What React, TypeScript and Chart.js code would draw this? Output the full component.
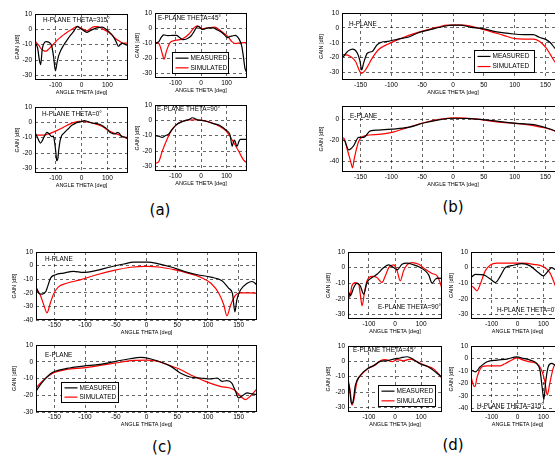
import React, { useEffect, useRef } from "react";
import { Chart, registerables } from "chart.js";

Chart.register(...registerables);

const FONT = '"Liberation Sans", Arial, Helvetica, sans-serif';

const seriesNames = ["MEASURED", "SIMULATED"];
const seriesColors = ["#000000", "#ff0000"];
const panelLabels = ["(a)", "(b)", "(c)", "(d)"];
const xAxisTitle = "ANGLE THETA [deg]";
const yAxisTitle = "GAIN [dB]";

const xTicksSmall = [-100, 0, 100];
const xTicksWide = [-150, -100, -50, 0, 50, 100, 150];
const yTicks30 = [10, 0, -10, -20, -30];
const yTicks40 = [10, 0, -10, -20, -30, -40];
const yTicksB2 = [0, -20, -40];

// ---- (a) ----
const a1MeasTheta = [-178,-170,-163,-158,-152,-145,-137,-125,-115,-108,-101,-95,-88,-81,-68,-56,-43,-31,-16,-8,0,10,21,32,44,60,81,95,106,120,131,144,150,156,165,178];
const a1MeasGain = [-9,-12,-20,-23,-13,-9,-8,-8.5,-11,-18,-27,-22,-17,-14,-10,-7,-4,-1.5,2,1,0,-1,-2,-1,0,1,1.5,0,-1.5,-4,-7,-11,-10,-9,-9.5,-10.5];
const a1SimTheta = [-178,-165,-156,-145,-137,-128,-119,-105,-94,-80,-62,-50,-37,-28,-19,-10,0,10,21,35,50,62,75,90,106,120,131,145,156,165,178];
const a1SimGain = [-8,-10.5,-12.7,-14,-14.2,-13,-11.5,-9,-7,-5,-2.7,-1.2,0,1,1.8,1.5,0.7,-0.3,-1,0.5,1.8,1.8,1,-0.5,-2,-4,-6,-7.5,-8.7,-9,-8.9];

const a2MeasTheta = [-178,-165,-155,-146,-130,-110,-96,-85,-71,-55,-40,-28,-21,-12,-4,4,15,29,48,62,79,92,104,114,122,135,148,155,160,166,172,178];
const a2MeasGain = [-10,-9,-6,-4.5,-5,-4.8,-4.8,-6,-7.6,-7,-5.4,-2.5,-0.4,1.1,0.5,-0.9,-0.5,0.2,0.2,-1,-2.6,-4.5,-6.3,-5.5,-5.2,-4.8,-7,-9.5,-12.4,-19,-26.5,-29];
const a2SimTheta = [-178,-165,-158,-152,-147,-144,-140,-134,-121,-110,-96,-71,-46,-27,-15,-5,4,29,54,79,104,122,135,154,178];
const a2SimGain = [-9.5,-10.2,-13,-16.7,-19.5,-20.6,-18.5,-14.6,-9.6,-8.5,-8,-7,-3.7,0.2,1.5,0.5,-0.4,0.2,0.7,-2,-5.4,-9.1,-10.2,-9.8,-9.6];

const a3MeasTheta = [-178,-170,-165,-159,-152,-146,-140,-134,-125,-115,-109,-104,-99,-96,-92,-88,-83,-77,-68,-59,-50,-40,-28,-15,0,10,25,41,55,66,79,91,100,110,120,129,135,141,148,154,163,173,178];
const a3MeasGain = [-7.2,-10,-12,-13.5,-12,-9.8,-8,-6.5,-7.6,-9.3,-9,-13,-20,-25,-24,-18,-12,-8.7,-7,-5.4,-4,-2.2,-1,0,0.5,1.1,0.5,-0.4,-0.8,-1.1,-2,-3.3,-4.5,-6.5,-7.2,-7.6,-7,-6.5,-7.5,-9.1,-9.5,-9.8,-10.5];
const a3SimTheta = [-178,-146,-121,-96,-71,-40,-9,16,48,79,104,129,148,173,178];
const a3SimGain = [-8.3,-8.3,-7.2,-5.4,-3.3,-0.7,0.7,0.4,-0.7,-2.6,-5.4,-7.2,-8.3,-10.4,-10.6];

const a4MeasTheta = [-178,-165,-152,-140,-127,-115,-96,-71,-46,-34,-15,16,48,72,98,114,122,127,131,136,141,148,154,166,178];
const a4MeasGain = [-10,-10.3,-11.1,-10,-9,-6.4,-2.8,-0.6,0.6,1.7,0.4,-0.4,-2.1,-3.2,-6.4,-9.6,-17,-14,-12.8,-15,-17,-14,-12.4,-12.4,-12.4];
const a4SimTheta = [-178,-165,-152,-134,-115,-90,-59,-27,4,41,72,98,122,148,166,178];
const a4SimGain = [-28,-26.8,-20.3,-12.8,-6.4,-2.1,0,0.4,0,-1.5,-3.9,-6.9,-12.8,-20.3,-25.7,-27.4];

// ---- (b) ----
const b1MeasTheta = [-180,-177,-171,-163,-155,-151,-148,-145,-139,-131,-123,-115,-105,-89,-73,-57,-36,-14,0,12,28,50,71,98,114,130,140,151,158,165,172,180];
const b1MeasGain = [-20,-19,-15.8,-14.2,-17,-22,-28.2,-23.7,-17,-15.8,-11.3,-9.5,-9,-7.5,-6.3,-3.4,-1.1,1.1,1.8,1.8,0.5,-0.7,-2.7,-4.1,-4.5,-4.5,-6.3,-7.9,-10,-13.5,-16,-18];
const b1SimTheta = [-180,-177,-166,-158,-151,-148,-142,-131,-121,-105,-89,-68,-46,-25,-9,18,39,60,82,101,115,130,140,151,158,165,172,180];
const b1SimGain = [-18.5,-18,-19.2,-22.6,-29.4,-30.5,-28.2,-20.3,-14.7,-10.8,-7.9,-4.5,-1.8,0.5,1.8,1.8,0,-2.3,-5,-7.2,-7.5,-7.5,-9,-13.5,-18,-22.6,-25,-27];

const b2MeasTheta = [-180,-177,-169,-161,-153,-145,-134,-121,-99,-73,-46,-25,0,28,60,103,135,151,165,172,180];
const b2MeasGain = [-20,-19.7,-29,-25,-17.2,-17.2,-11,-10.3,-9.4,-7.8,-3.4,-0.9,0.9,0.6,-1.2,-4,-5.6,-8.1,-11,-13,-15];
const b2SimTheta = [-180,-177,-172,-166,-163,-160,-153,-142,-121,-99,-73,-46,-20,7,39,71,114,140,165,172,180];
const b2SimGain = [-18,-18,-27.5,-40,-46,-37,-21.2,-15.6,-14.4,-12.5,-7.8,-3.1,0,1.2,0,-2.5,-4.7,-7.2,-11.2,-14,-17];

// ---- (c) ----
const c1MeasTheta = [-180,-175,-170,-164,-156,-148,-135,-119,-103,-81,-59,-37,-21,2,18,40,61,83,105,123,134,140,144,147,153,164,172,180];
const c1MeasGain = [-15.5,-20.5,-21,-19,-9,-6.7,-5.5,-4.2,-5,-3.5,-1,1.2,2.5,2.5,1.5,-1,-4.2,-6.7,-8.5,-11.2,-16.7,-20.5,-34,-25.5,-18,-13,-11.7,-14.2];
const c1SimTheta = [-180,-173,-168,-162,-157,-151,-143,-130,-108,-81,-53,-26,0,23,45,67,89,105,118,126,131,137,145,153,169,180];
const c1SimGain = [-16.7,-21.7,-28,-34.7,-28,-20.5,-15.5,-13,-10.5,-6.7,-3.5,-1.2,-0.5,-1.2,-3,-5.5,-8.7,-13,-20.5,-29,-37,-29,-21.7,-20,-20,-20.5];

const c2MeasTheta = [-180,-171,-157,-149,-130,-103,-76,-48,-27,-10,6,22,39,55,71,88,104,115,123,131,139,145,150,155,164,172,180];
const c2MeasGain = [-17.6,-12.7,-7.3,-5.7,-4,-2.6,-1.6,0.4,1.8,2.6,1.8,0,-2.6,-6.7,-9.1,-9.7,-10.3,-9.7,-11.7,-11.3,-12.7,-17.6,-21.6,-20.6,-18.6,-19.2,-19.6];
const c2SimTheta = [-180,-168,-152,-130,-103,-76,-48,-21,0,17,33,55,77,98,120,142,153,161,169,180];
const c2SimGain = [-15.6,-11,-6.7,-4.6,-3.6,-2.2,-0.6,0.8,1,0.4,-1.6,-4.6,-8.7,-12,-14.7,-16.6,-20.6,-22.6,-20.6,-16.2];

// ---- (d) ----
const d1MeasTheta = [-180,-171,-158,-146,-133,-120,-107,-88,-69,-43,-24,-5,8,27,46,72,97,116,129,142,155,167,180];
const d1MeasGain = [-14.9,-18,-12.8,-10.2,-11.7,-17,-9.6,-6.4,-4.3,0,1.7,0,-1.5,2.1,2.8,1.7,0,-2.1,-4.7,-10,-7.4,-6.8,-7];
const d1SimTheta = [-180,-174,-165,-152,-139,-133,-126,-117,-107,-88,-69,-50,-37,-24,-5,8,20,33,46,65,91,116,142,161,174,180];
const d1SimGain = [-12.8,-19.1,-11.7,-9.6,-10.6,-17,-24.5,-16,-8.5,-5.7,-6.4,-9.6,-5.3,0,1.7,-2.1,-8.5,-2.1,1.7,3.2,2.1,-1.1,-3.8,-5.3,-10.2,-13.8];

const d2MeasTheta = [-180,-163,-131,-105,-86,-66,-47,-15,17,49,81,100,119,132,144,160,180];
const d2MeasGain = [-6.4,-4.3,-4.7,-7.4,-9.6,-5.3,0,1.5,2.6,1.1,-3.2,-5.3,-2.1,0,-1.1,-3,-5];
const d2SimTheta = [-180,-170,-157,-144,-125,-105,-80,-28,23,61,100,125,144,160,180];
const d2SimGain = [-11.7,-12.8,-14.9,-10.6,-2.1,1.7,2.8,2.8,2.8,2.1,0.6,-3.2,-10.6,-18,-25];

const d3MeasTheta = [-180,-174,-167,-161,-152,-133,-107,-82,-56,-31,-5,20,46,72,97,123,148,167,180];
const d3MeasGain = [-12.5,-17.8,-27.5,-26.5,-15.7,-9.2,-4.9,-2.8,0,0.4,1.5,2.2,3,1.1,-1.7,-3.2,-6,-8.6,-10.3];
const d3SimTheta = [-180,-171,-165,-158,-146,-126,-101,-75,-56,-37,-11,8,33,59,84,116,148,167,180];
const d3SimGain = [-11.4,-20,-28.5,-25.4,-13.5,-8.2,-4.5,-2.4,0.4,1.1,-0.2,1.1,0.4,1.5,-0.2,-2.8,-4.9,-8.2,-11];

const d4MeasTheta = [-180,-163,-144,-118,-79,-41,-3,23,49,74,87,96,102,109,119,132,144,160,180];
const d4MeasGain = [-9.3,-10.7,-6.7,-2.7,-1.3,-0.5,1.3,0,-1.3,-4,-9.3,-24,-33,-18.7,-6.7,-4,-5.3,-8,-10];
const d4SimTheta = [-180,-171,-165,-156,-137,-118,-66,-47,-22,-3,23,49,74,93,106,115,125,138,144,160,180];
const d4SimGain = [-14.7,-21.3,-22.7,-14.7,-6.7,-5.9,-5.9,-4,-1.3,0.5,-1.3,-2.7,-4,-9.3,-18.7,-29.3,-20,-8,-5.3,-5,-8];

type Spec = {
  box: number[]; // l, t, r, b (page px)
  yMin: number;
  yMax: number;
  yTicks: number[];
  xTicks: number[];
  meas: number[][];
  sim: number[][];
  title: string;
  titlePos: number[];
  legend?: number[];
  gap: number;
};

const specs: Spec[] = [
  { box: [35, 14, 128, 80], yMin: -33, yMax: 10, yTicks: yTicks30, xTicks: xTicksSmall, meas: [a1MeasTheta, a1MeasGain], sim: [a1SimTheta, a1SimGain], title: "H-PLANE THETA=315°", titlePos: [43, 20], gap: 17 },
  { box: [155, 13, 247, 78], yMin: -33, yMax: 10, yTicks: yTicks30, xTicks: xTicksSmall, meas: [a2MeasTheta, a2MeasGain], sim: [a2SimTheta, a2SimGain], title: "E-PLANE THETA=45°", titlePos: [158, 18], legend: [172, 52, 229, 74], gap: 17 },
  { box: [35, 107, 128, 173], yMin: -33, yMax: 10, yTicks: yTicks30, xTicks: xTicksSmall, meas: [a3MeasTheta, a3MeasGain], sim: [a3SimTheta, a3SimGain], title: "H-PLANE THETA=0°", titlePos: [42, 114], gap: 17 },
  { box: [155, 105, 247, 171], yMin: -33, yMax: 10, yTicks: yTicks30, xTicks: xTicksSmall, meas: [a4MeasTheta, a4MeasGain], sim: [a4SimTheta, a4SimGain], title: "E-PLANE THETA=90°", titlePos: [157, 109], gap: 17 },
  { box: [342, 13, 564, 80], yMin: -35, yMax: 10, yTicks: yTicks30, xTicks: xTicksWide, meas: [b1MeasTheta, b1MeasGain], sim: [b1SimTheta, b1SimGain], title: "H-PLANE", titlePos: [349, 24], legend: [474, 50, 535, 73], gap: 20 },
  { box: [342, 106, 564, 172], yMin: -50, yMax: 12.5, yTicks: yTicksB2, xTicks: xTicksWide, meas: [b2MeasTheta, b2MeasGain], sim: [b2SimTheta, b2SimGain], title: "E-PLANE", titlePos: [350, 116], gap: 20 },
  { box: [36, 252, 257, 320], yMin: -40, yMax: 10, yTicks: yTicks40, xTicks: xTicksWide, meas: [c1MeasTheta, c1MeasGain], sim: [c1SimTheta, c1SimGain], title: "H-PLANE", titlePos: [45, 259], gap: 21 },
  { box: [36, 345, 257, 412], yMin: -30, yMax: 10, yTicks: yTicks30, xTicks: xTicksWide, meas: [c2MeasTheta, c2MeasGain], sim: [c2SimTheta, c2SimGain], title: "E-PLANE", titlePos: [45, 355], legend: [61, 382, 119, 403], gap: 21 },
  { box: [348, 252, 442, 319], yMin: -33, yMax: 10, yTicks: yTicks30, xTicks: xTicksSmall, meas: [d1MeasTheta, d1MeasGain], sim: [d1SimTheta, d1SimGain], title: "E-PLANE THETA=90°", titlePos: [378, 307], gap: 19 },
  { box: [471, 252, 564, 319], yMin: -33, yMax: 10, yTicks: yTicks30, xTicks: xTicksSmall, meas: [d2MeasTheta, d2MeasGain], sim: [d2SimTheta, d2SimGain], title: "H-PLANE THETA=0°", titlePos: [497, 310], gap: 19 },
  { box: [348, 346, 442, 412], yMin: -33, yMax: 10, yTicks: yTicks30, xTicks: xTicksSmall, meas: [d3MeasTheta, d3MeasGain], sim: [d3SimTheta, d3SimGain], title: "E-PLANE THETA=45°", titlePos: [353, 350], legend: [378, 385, 436, 407], gap: 19 },
  { box: [471, 346, 564, 412], yMin: -43, yMax: 10, yTicks: yTicks40, xTicks: xTicksSmall, meas: [d4MeasTheta, d4MeasGain], sim: [d4SimTheta, d4SimGain], title: "H-PLANE THETA=315°", titlePos: [477, 406], gap: 19 },
];

const labelPos = [
  [160, 210],
  [453, 207],
  [162, 447],
  [453, 445],
];

const PAD_TOP = 8;
const PAD_RIGHT = 4;
const X_AXIS_H = 15;

const framePlugin = {
  id: "frameNotes",
  afterDatasetsDraw(chart: any, _args: any, opts: any) {
    const { ctx, chartArea: a } = chart;
    ctx.save();
    ctx.strokeStyle = "#000";
    ctx.lineWidth = 1;
    const l = Math.round(a.left) + 0.5;
    const t = Math.round(a.top) + 0.5;
    const r = Math.round(a.right) - 0.5;
    const b = Math.round(a.bottom) - 0.5;
    ctx.strokeRect(l, t, r - l, b - t);
    ctx.fillStyle = "#000";
    ctx.font = `6.4px ${FONT}`;
    ctx.textBaseline = "middle";
    ctx.textAlign = "left";
    ctx.fillText(opts.title, opts.tx, opts.ty);
    if (opts.legend) {
      const [ll, lt, lr, lb] = opts.legend;
      ctx.fillStyle = "#fff";
      ctx.fillRect(ll, lt, lr - ll, lb - lt);
      ctx.strokeStyle = "#000";
      ctx.lineWidth = 1;
      ctx.strokeRect(ll + 0.5, lt + 0.5, lr - ll - 1, lb - lt - 1);
      const h = lb - lt;
      const rows = [lt + h * 0.28, lt + h * 0.72];
      chart.data.datasets.forEach((ds: any, i: number) => {
        ctx.strokeStyle = ds.borderColor;
        ctx.lineWidth = 1.2;
        ctx.beginPath();
        ctx.moveTo(ll + 3.5, rows[i]);
        ctx.lineTo(ll + 16.5, rows[i]);
        ctx.stroke();
        ctx.fillStyle = "#000";
        ctx.font = `6.5px ${FONT}`;
        ctx.fillText(ds.label, ll + 18.5, rows[i]);
      });
    }
    ctx.restore();
  },
};

function geometry(s: Spec) {
  const [l, t, r, b] = s.box;
  const yW = Math.round(s.gap + 2.75);
  const left = l - yW;
  const top = t - PAD_TOP;
  const width = yW + (r - l) + PAD_RIGHT;
  const height = PAD_TOP + (b - t) + X_AXIS_H;
  return { yW, left, top, width, height };
}

function SubChart({ spec }: { spec: Spec }) {
  const ref = useRef<HTMLCanvasElement | null>(null);
  const g = geometry(spec);
  useEffect(() => {
    if (!ref.current) return;
    const toPts = (th: number[], gn: number[]) => th.map((x, i) => ({ x, y: gn[i] }));
    const tickFont = { family: FONT, size: 6.5, lineHeight: 1 };
    const titleFont = { family: FONT, size: 5.5, lineHeight: 1 };
    const gridOpts = { color: "rgba(0,0,0,0.85)", lineWidth: 0.7, drawTicks: false };
    const borderOpts = { display: false, dash: [3, 3] };
    const chart = new Chart(ref.current, {
      type: "line",
      data: {
        datasets: [
          { label: seriesNames[0], data: toPts(spec.meas[0], spec.meas[1]), borderColor: seriesColors[0], borderWidth: 1.2, pointRadius: 0, cubicInterpolationMode: "monotone", fill: false },
          { label: seriesNames[1], data: toPts(spec.sim[0], spec.sim[1]), borderColor: seriesColors[1], borderWidth: 1.2, pointRadius: 0, cubicInterpolationMode: "monotone", fill: false },
        ],
      } as any,
      options: {
        animation: false,
        responsive: false,
        maintainAspectRatio: false,
        devicePixelRatio: 1,
        events: [],
        layout: { padding: { top: PAD_TOP, right: PAD_RIGHT, left: 0, bottom: 0 } },
        plugins: {
          legend: { display: false },
          tooltip: { enabled: false },
          frameNotes: {
            title: spec.title,
            tx: spec.titlePos[0] - g.left,
            ty: spec.titlePos[1] - g.top,
            legend: spec.legend
              ? [spec.legend[0] - g.left, spec.legend[1] - g.top, spec.legend[2] - g.left, spec.legend[3] - g.top]
              : null,
          },
        } as any,
        scales: {
          x: {
            type: "linear",
            min: -180,
            max: 180,
            afterBuildTicks: (ax: any) => { ax.ticks = spec.xTicks.map((v) => ({ value: v })); },
            afterFit: (ax: any) => { ax.height = X_AXIS_H; },
            ticks: { font: tickFont, color: "#000", padding: 2, maxRotation: 0, autoSkip: false },
            grid: gridOpts,
            border: borderOpts,
            title: { display: true, text: xAxisTitle, font: titleFont, color: "#000", padding: 0 },
          },
          y: {
            type: "linear",
            min: spec.yMin,
            max: spec.yMax,
            afterBuildTicks: (ax: any) => { ax.ticks = spec.yTicks.map((v) => ({ value: v })); },
            afterFit: (ax: any) => { ax.width = g.yW; },
            ticks: { font: tickFont, color: "#000", padding: 3, autoSkip: false },
            grid: gridOpts,
            border: borderOpts,
            title: { display: true, text: yAxisTitle, font: titleFont, color: "#000", padding: 0 },
          },
        } as any,
      },
      plugins: [framePlugin as any],
    });
    return () => chart.destroy();
  }, []);
  return (
    <canvas
      ref={ref}
      width={g.width}
      height={g.height}
      style={{ position: "absolute", left: g.left, top: g.top, width: g.width, height: g.height }}
    />
  );
}

export default function App() {
  return (
    <div
      style={{
        position: "absolute",
        left: 0,
        top: 0,
        width: 555,
        height: 455,
        overflow: "hidden",
        background: "#fff",
      }}
    >
      {specs.map((s, i) => (
        <SubChart key={i} spec={s} />
      ))}
      {panelLabels.map((t, i) => (
        <div
          key={t}
          style={{
            position: "absolute",
            left: labelPos[i][0],
            top: labelPos[i][1],
            transform: "translate(-50%, -50%)",
            fontFamily: '"DejaVu Sans", sans-serif',
            fontSize: 15,
            lineHeight: 1,
            color: "#000",
            whiteSpace: "nowrap",
          }}
        >
          {t}
        </div>
      ))}
    </div>
  );
}
